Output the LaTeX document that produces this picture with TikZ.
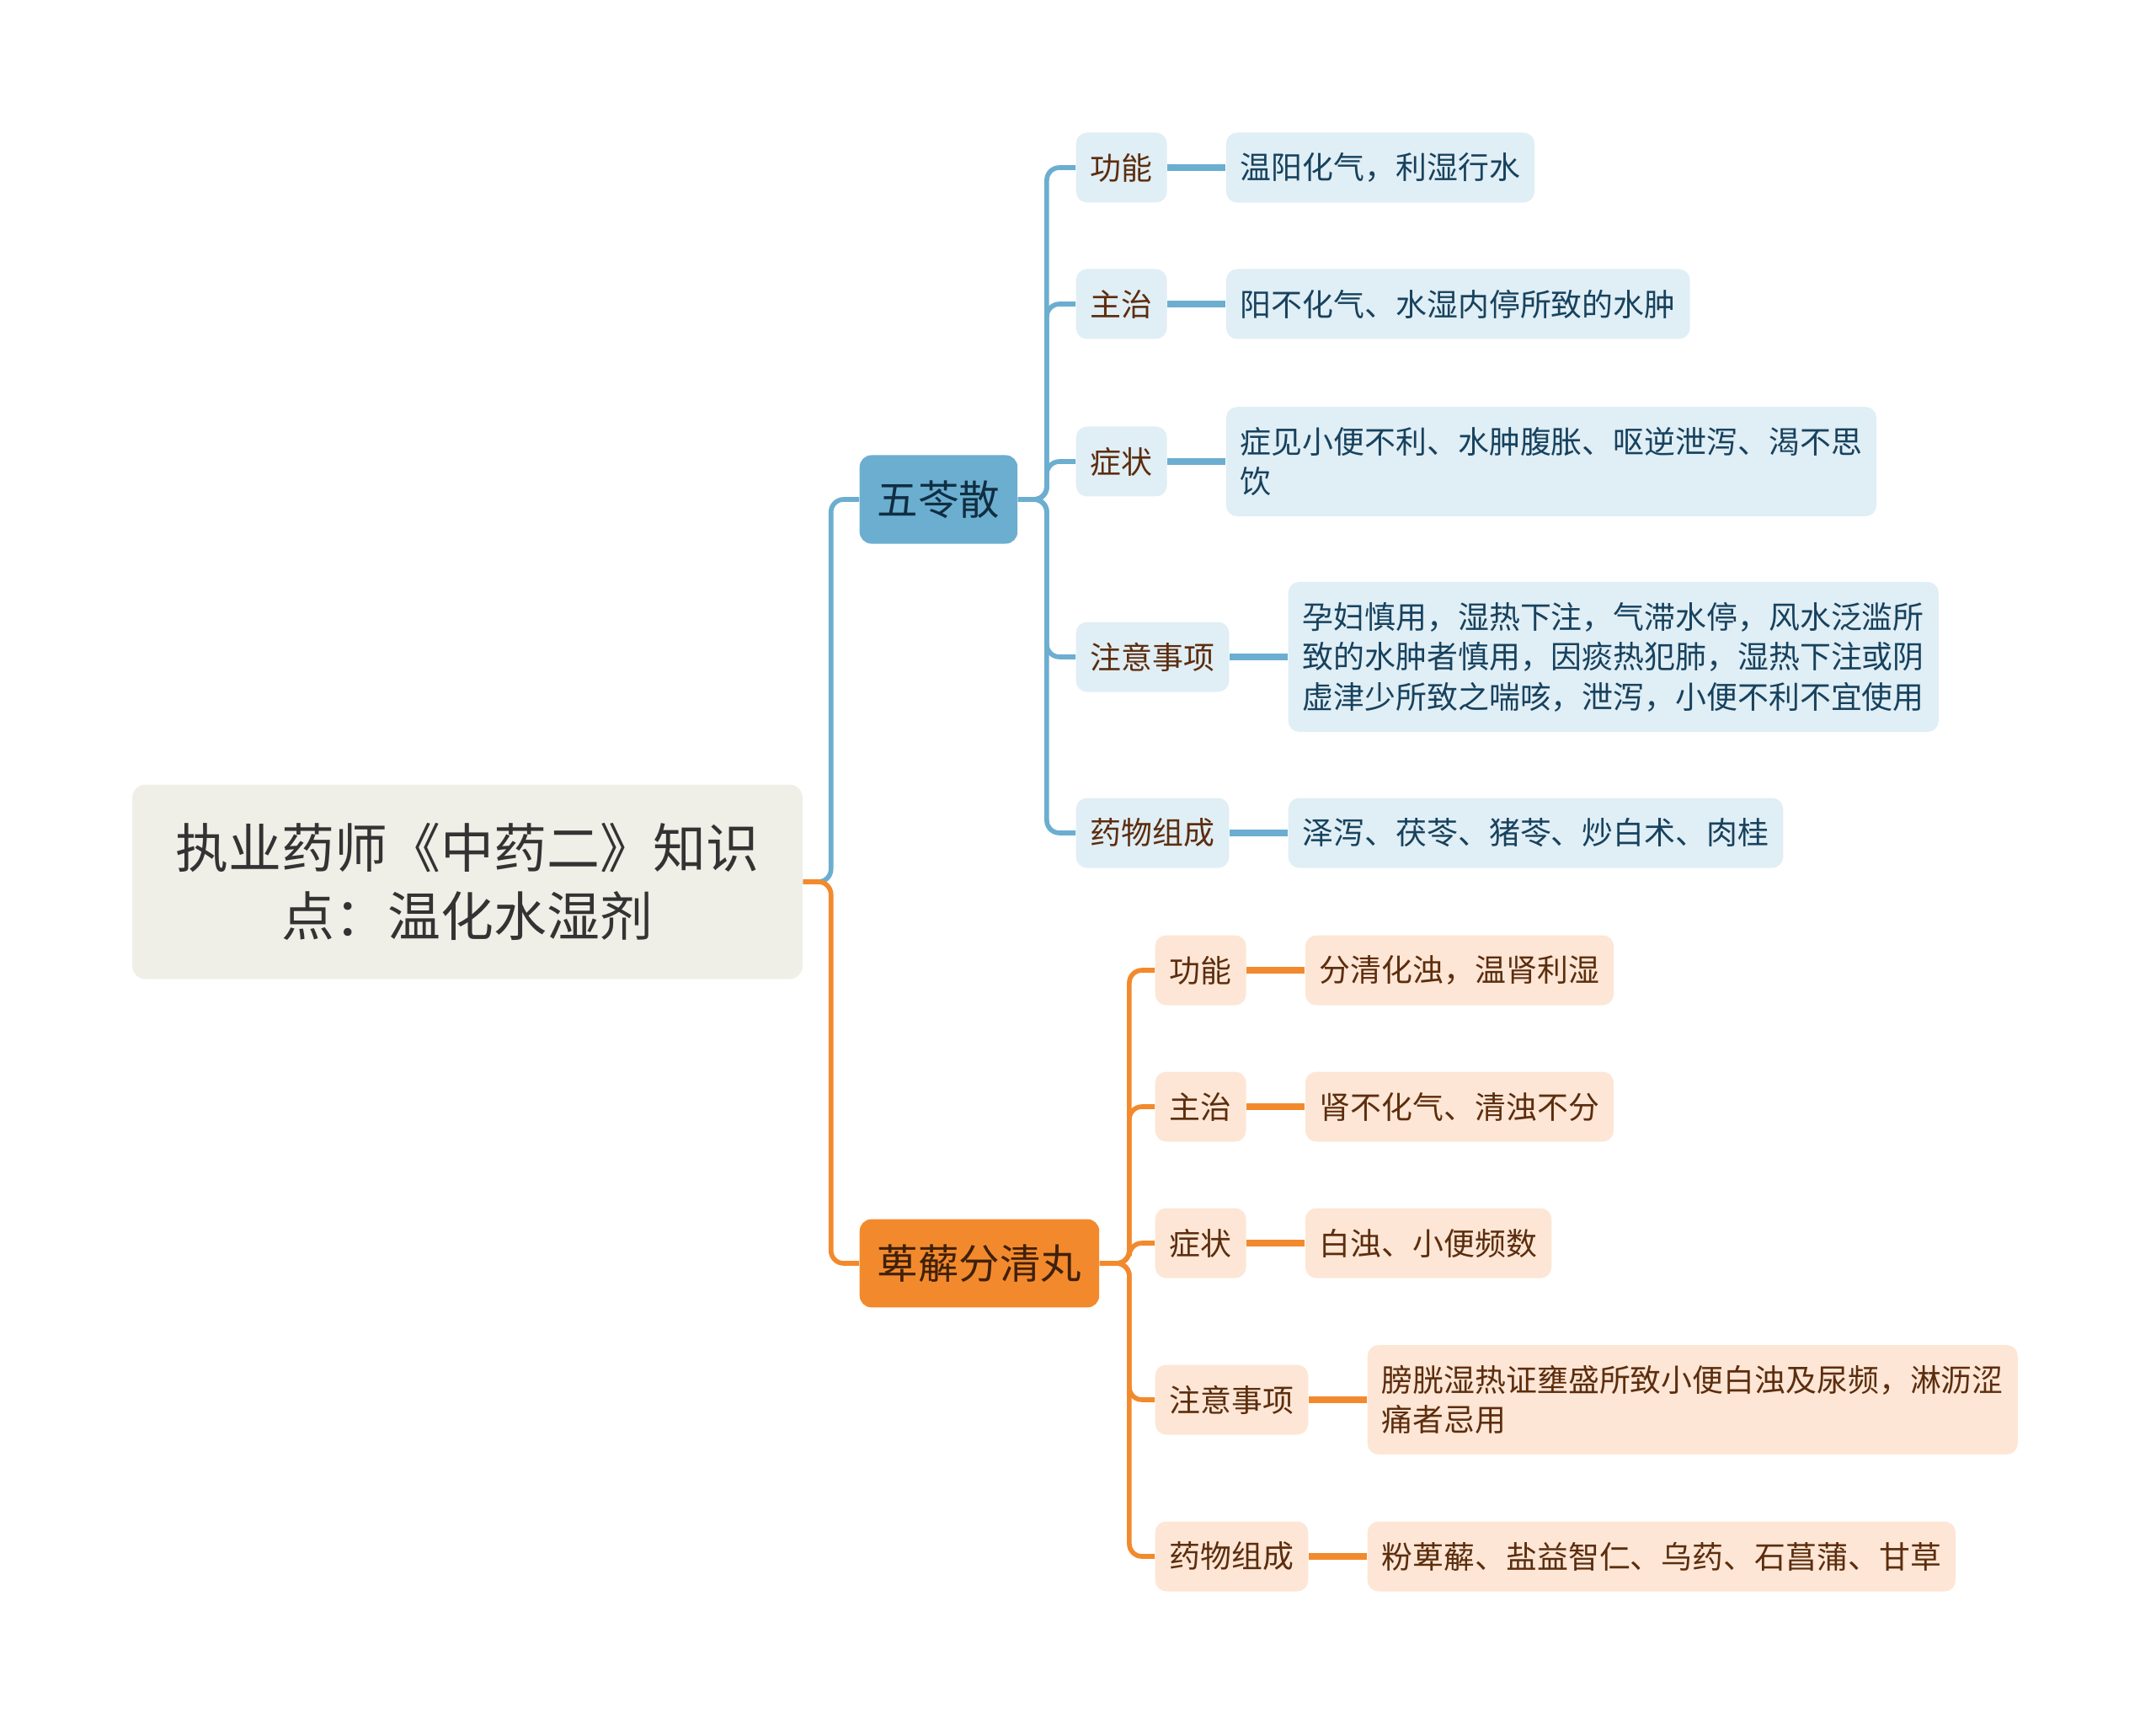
\documentclass[tikz,border=0pt]{standalone}
\usepackage{fontspec}
\newfontfamily\heiti{Noto Sans CJK SC}
\usetikzlibrary{positioning}
\definecolor{mibai}{RGB}{239,239,231}
\definecolor{zhuwen}{RGB}{51,51,51}
\definecolor{lanse}{RGB}{107,174,208}
\definecolor{lanqian}{RGB}{224,238,245}
\definecolor{lanwen}{RGB}{23,66,94}
\definecolor{chengse}{RGB}{242,138,45}
\definecolor{chengqian}{RGB}{253,230,213}
\definecolor{hewen}{RGB}{92,45,14}

\begin{document}
\begin{tikzpicture}[
  zhuti/.style={rectangle, rounded corners=4.5pt, fill=mibai, text=zhuwen,
    minimum width=7.96cm, minimum height=2.31cm, align=center,
    font=\heiti\fontsize{17.9pt}{23.2pt}\selectfont},
  fenzhi/.style={rectangle, rounded corners=4pt, inner xsep=0.21cm,
    inner ysep=0.3cm, font=\heiti\fontsize{13.8pt}{17pt}\selectfont},
  lanzhi/.style={fenzhi, fill=lanse, text=lanwen!70!black},
  chengzhi/.style={fenzhi, fill=chengse, text=hewen!70!black},
  xiaokuang/.style={rectangle, rounded corners=3.7pt, inner xsep=0.17cm,
    inner ysep=0.24cm, minimum height=0.83cm, align=left,
    font=\heiti\fontsize{10.5pt}{13.5pt}\selectfont},
  lanbiao/.style={xiaokuang, fill=lanqian, text=hewen},
  lanye/.style={xiaokuang, fill=lanqian, text=lanwen},
  chengbiao/.style={xiaokuang, fill=chengqian, text=hewen},
  chengye/.style={xiaokuang, fill=chengqian, text=hewen},
  lanxian/.style={draw=lanse, line width=1.6pt, rounded corners=0.15cm},
  chengxian/.style={draw=chengse, line width=1.6pt, rounded corners=0.15cm},
  lancu/.style={draw=lanse, line width=2pt},
  chengcu/.style={draw=chengse, line width=2pt},
  node distance=0.69cm
]
\useasboundingbox (0,0) rectangle (25.6,-20.47);
% zhongxin
\node[zhuti] (zhu) at (5.55,-10.47) {执业药师《中药二》知识\\点：温化水湿剂};
\node[lanzhi, anchor=west] (wls) at (10.20,-5.93) {五苓散};
\node[chengzhi, anchor=west] (bxf) at (10.20,-15.00) {萆薢分清丸};
\draw[lanxian] (zhu.east) -- ++(0.33,0) |- (wls.west);
\draw[chengxian] (zhu.east) -- ++(0.33,0) |- (bxf.west);

% wulingsan
\node[lanbiao, anchor=west] (a1) at (12.77,-1.99) {功能};
\node[lanbiao, anchor=west] (a2) at (12.77,-3.61) {主治};
\node[lanbiao, anchor=west] (a3) at (12.77,-5.48) {症状};
\node[lanbiao, anchor=west] (a4) at (12.77,-7.80) {注意事项};
\node[lanbiao, anchor=west] (a5) at (12.77,-9.89) {药物组成};
\node[lanye, right=of a1] (b1) {温阳化气，利湿行水};
\node[lanye, right=of a2] (b2) {阳不化气、水湿内停所致的水肿};
\node[lanye, right=of a3] (b3) {症见小便不利、水肿腹胀、呕逆泄泻、渴不思\\饮};
\node[lanye, right=of a4] (b4) {孕妇慎用，湿热下注，气滞水停，风水泛滥所\\致的水肿者慎用，因痰热犯肺，湿热下注或阴\\虚津少所致之喘咳，泄泻，小便不利不宜使用};
\node[lanye, right=of a5] (b5) {泽泻、茯苓、猪苓、炒白术、肉桂};
\foreach \i in {1,...,5} {
  \draw[lanxian] (wls.east) -- ++(0.34,0) |- (a\i.west);
  \draw[lancu] (a\i) -- (b\i);
}

% bixie fenqing wan
\node[chengbiao, anchor=west] (c1) at (13.71,-11.52) {功能};
\node[chengbiao, anchor=west] (c2) at (13.71,-13.14) {主治};
\node[chengbiao, anchor=west] (c3) at (13.71,-14.76) {症状};
\node[chengbiao, anchor=west] (c4) at (13.71,-16.62) {注意事项};
\node[chengbiao, anchor=west] (c5) at (13.71,-18.48) {药物组成};
\node[chengye, right=of c1] (d1) {分清化浊，温肾利湿};
\node[chengye, right=of c2] (d2) {肾不化气、清浊不分};
\node[chengye, right=of c3] (d3) {白浊、小便频数};
\node[chengye, right=of c4] (d4) {膀胱湿热证壅盛所致小便白浊及尿频，淋沥涩\\痛者忌用};
\node[chengye, right=of c5] (d5) {粉萆薢、盐益智仁、乌药、石菖蒲、甘草};
\foreach \i in {1,...,5} {
  \draw[chengxian] (bxf.east) -- ++(0.35,0) |- (c\i.west);
  \draw[chengcu] (c\i) -- (d\i);
}
\end{tikzpicture}
\end{document}
